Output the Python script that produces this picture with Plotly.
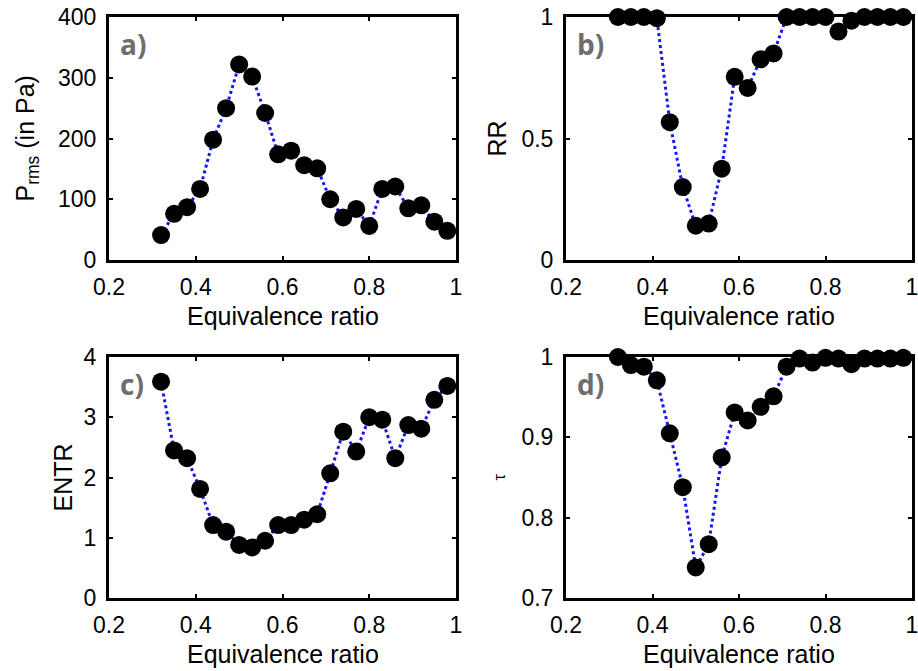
import plotly.graph_objects as go

phi = [0.32, 0.35, 0.38, 0.41, 0.44, 0.47, 0.50, 0.53, 0.56, 0.59, 0.62, 0.65,
       0.68, 0.71, 0.74, 0.77, 0.80, 0.83, 0.86, 0.89, 0.92, 0.95, 0.98]
prms = [41, 76, 87, 117, 198, 250, 322, 302, 242, 174, 180, 156,
        151, 100, 70, 84, 56, 117, 121, 85, 90, 63, 48]
rr = [1.0, 1.0, 1.0, 0.995, 0.567, 0.30, 0.141, 0.150, 0.376, 0.754, 0.708, 0.826,
      0.85, 1.0, 1.0, 1.0, 1.0, 0.94, 0.985, 1.0, 1.0, 1.0, 1.0]
entr = [3.59, 2.45, 2.32, 1.81, 1.21, 1.10, 0.88, 0.84, 0.95, 1.21, 1.21, 1.30,
        1.39, 2.07, 2.76, 2.43, 3.0, 2.96, 2.32, 2.87, 2.81, 3.29, 3.52]
tau = [1.0, 0.990, 0.988, 0.971, 0.905, 0.838, 0.738, 0.767, 0.875, 0.931, 0.921, 0.938,
       0.951, 0.988, 0.998, 0.993, 0.999, 0.998, 0.991, 0.998, 0.998, 0.998, 0.999]

x_ticks = [0.2, 0.4, 0.6, 0.8, 1.0]
x_ticklabels = ["0.2", "0.4", "0.6", "0.8", "1"]
panels = [
    dict(y=prms, yr=[0, 400], yt=[0, 100, 200, 300, 400], ytl=["0", "100", "200", "300", "400"],
         ytitle="P<sub>rms</sub> (in Pa)", tag="a)"),
    dict(y=rr, yr=[0, 1], yt=[0, 0.5, 1], ytl=["0", "0.5", "1"], ytitle="RR", tag="b)"),
    dict(y=entr, yr=[0, 4], yt=[0, 1, 2, 3, 4], ytl=["0", "1", "2", "3", "4"], ytitle="ENTR", tag="c)"),
    dict(y=tau, yr=[0.7, 1], yt=[0.7, 0.8, 0.9, 1.0], ytl=["0.7", "0.8", "0.9", "1"], ytitle="τ", tag="d)"),
]

W, H = 918, 671
# pixel boxes (left, right, top, bottom)
boxes = [(109, 456, 17, 260), (566, 912, 17, 260), (109, 456, 357, 598), (566, 912, 357, 598)]

FONT = "Liberation Sans, Arial, sans-serif"
fig = go.Figure()
layout = dict(width=W, height=H, margin=dict(l=0, r=0, t=0, b=0, autoexpand=False),
              paper_bgcolor="white", plot_bgcolor="white", showlegend=False,
              font=dict(family=FONT, size=23, color="black"))
annotations = []
for i, (p, (l, r, t, b)) in enumerate(zip(panels, boxes)):
    n = "" if i == 0 else str(i + 1)
    xa, ya = "x" + n, "y" + n
    fig.add_trace(go.Scatter(x=phi, y=p["y"], xaxis=xa, yaxis=ya, mode="lines+markers",
                             line=dict(color="#1414ff", width=3, dash="dot"),
                             marker=dict(color="black", size=18),
                             cliponaxis=False))
    axcommon = dict(showgrid=False, zeroline=False, showline=True, linecolor="black",
                    linewidth=3, mirror="ticks", ticks="inside", ticklen=4,
                    tickwidth=2, tickcolor="black", layer="below traces", automargin=False,
                    ticklabeloverflow="allow",
                    tickfont=dict(family=FONT, size=23, color="black"))
    layout["xaxis" + n] = dict(domain=[l / W, r / W], anchor=ya, range=[0.2, 1.0],
                               tickvals=x_ticks, ticktext=x_ticklabels,
                               ticklabelstandoff=4, **axcommon)
    layout["yaxis" + n] = dict(domain=[1 - b / H, 1 - t / H], anchor=xa, range=p["yr"],
                               tickvals=p["yt"], ticktext=p["ytl"],
                               ticklabelstandoff=5, **axcommon)
    # x title
    annotations.append(dict(text="Equivalence ratio", xref="paper", yref="paper",
                            x=(l + r) / 2 / W, y=1 - (b + 56) / H, showarrow=False,
                            xanchor="center", yanchor="middle",
                            font=dict(family=FONT, size=25, color="black")))
    # y title
    ytx = {0: 27, 1: 497, 2: 62, 3: 499}[i]
    annotations.append(dict(text=p["ytitle"], xref="paper", yref="paper",
                            x=ytx / W, y=1 - (t + b) / 2 / H, showarrow=False,
                            textangle=-90, xanchor="center", yanchor="middle",
                            font=dict(family=FONT, size=16 if i == 3 else 25, color="black")))
    # panel tag
    annotations.append(dict(text="<b>" + p["tag"] + "</b>", xref=xa + " domain", yref=ya + " domain",
                            x=0.025, y=0.89, showarrow=False, xanchor="left", yanchor="middle",
                            font=dict(family="Open Sans, sans-serif", size=28, color="#6e6e6e")))
layout["annotations"] = annotations
fig.update_layout(**layout)
fig.write_html("out.html")
